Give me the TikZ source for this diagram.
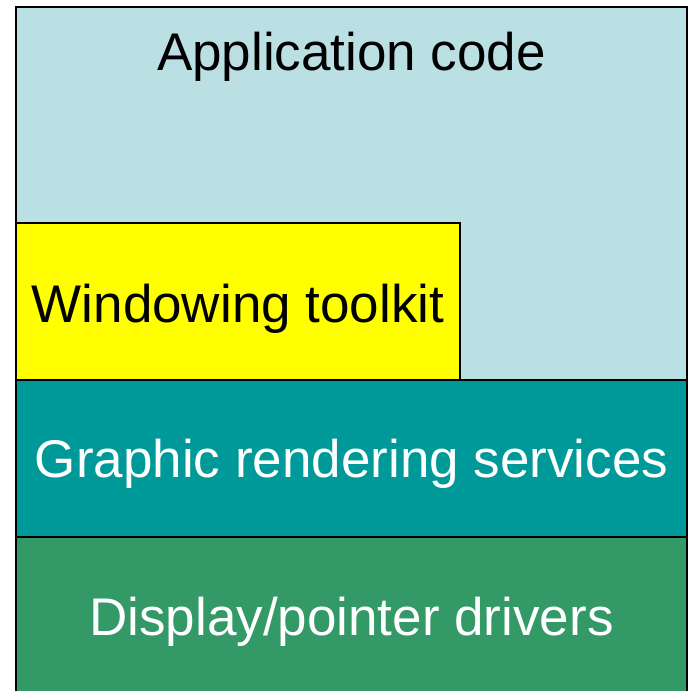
\documentclass[tikz,border=0pt]{standalone}
\usepackage{fontspec}
\setmainfont{Liberation Sans}
\definecolor{appblue}{HTML}{BBE0E3}
\definecolor{tkyellow}{HTML}{FFFF00}
\definecolor{gteal}{HTML}{009999}
\definecolor{dgreen}{HTML}{339966}
\begin{document}
\begin{tikzpicture}[x=1pt,y=-1pt,
  layer/.style={draw=black,line width=1.5pt},
  lbl/.style={anchor=base,font=\fontsize{53}{60}\selectfont,inner sep=0pt}]
\useasboundingbox (0,0) rectangle (688,691);
\clip (0,0) rectangle (688,691);
\fill[white] (0,0) rectangle (688,691);
\draw[layer,fill=appblue] (16,7) rectangle (687,700);
\draw[layer,fill=tkyellow] (16,223) rectangle (460,380);
\draw[layer,fill=gteal] (16,380) rectangle (687,537);
\draw[layer,fill=dgreen] (16,537) rectangle (687,700);
\node[lbl,text=black] (app) at (351.5,70) {Application code};
\node[lbl,text=black] (tk) at (238,322) {Windowing toolkit};
\node[lbl,text=white] (gr) at (351.5,477.5) {Graphic rendering services};
\node[lbl,text=white] (dp) at (351.5,635) {Display/pointer drivers};
\end{tikzpicture}
\end{document}
